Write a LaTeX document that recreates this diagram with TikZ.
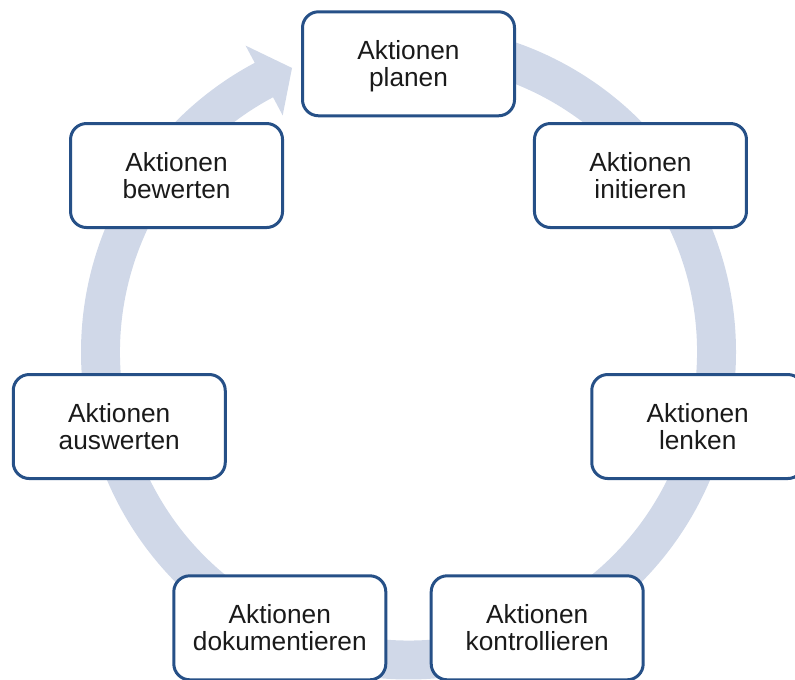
\documentclass[tikz,border=0pt]{standalone}
\usepackage{fontspec}
\setmainfont{Liberation Sans}
\usetikzlibrary{calc}
\definecolor{randblau}{RGB}{38,80,135}
\definecolor{ringgrau}{RGB}{208,216,232}
\definecolor{textschwarz}{RGB}{26,26,26}
\tikzset{
    schritt/.style={
        rectangle,
        draw=randblau,
        line width=2.25pt,
        rounded corners=12pt,
        fill=white,
        align=center,
        minimum width=159pt,
        minimum height=78pt,
        text depth=0pt,
        text=textschwarz,
        font=\fontsize{19.7pt}{20.5pt}\selectfont
    },
    kreispfeil/.style={fill=ringgrau, draw=none}
}

\begin{document}
\begin{tikzpicture}[x=0.75pt, y=0.75pt]
    \useasboundingbox (0,0) rectangle (795,680);

    % Ring mit Pfeilspitze oben links
    \begin{scope}[shift={(408.5,328)}]
        \fill[kreispfeil] (90:327.5) arc[start angle=90, end angle=-242, radius=327.5]
            -- (-242:347) -- (-247.7:307) -- (-242:268) -- (-242:288.5)
            arc[start angle=-242, end angle=90, radius=288.5] -- cycle;
    \end{scope}

    % Schritte im Kreis
    \begin{scope}[shift={(408.5,319.5)}]
        \node[schritt] (planen)        at (90:296.7)     {Aktionen\\planen};
        \node[schritt] (initieren)     at (38.57:296.7)  {Aktionen\\initieren};
        \node[schritt] (lenken)        at (-12.86:296.7) {Aktionen\\lenken};
        \node[schritt] (kontrollieren) at (-64.29:296.7) {Aktionen\\kontrollieren};
        \node[schritt] (dokumentieren) at (-115.71:296.7) {Aktionen\\dokumentieren};
        \node[schritt] (auswerten)     at (-167.14:296.7) {Aktionen\\auswerten};
        \node[schritt] (bewerten)      at (141.43:296.7) {Aktionen\\bewerten};
    \end{scope}
\end{tikzpicture}
\end{document}
